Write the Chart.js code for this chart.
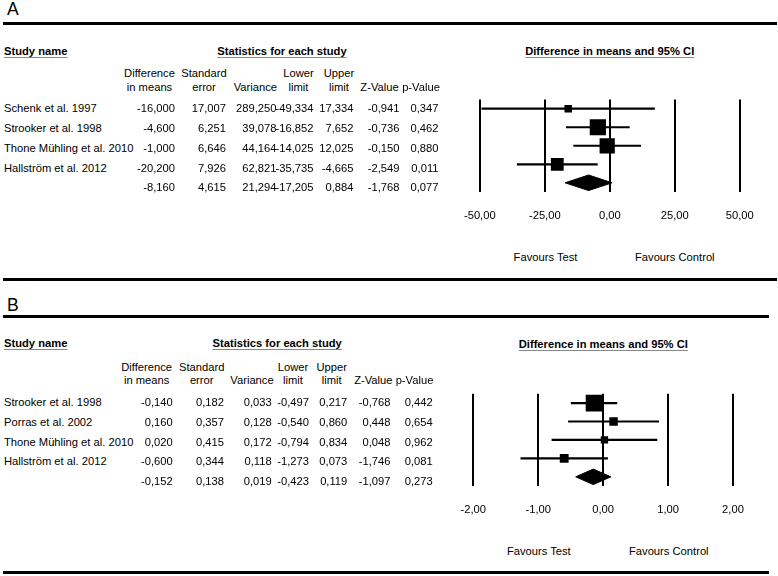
<!DOCTYPE html>
<html>
<head>
<meta charset="utf-8">
<script src="https://cdn.jsdelivr.net/npm/chart.js@4.4.1/dist/chart.umd.min.js"></script>
<style>
body { margin:0; width:778px; height:576px; background:#fff; position:relative; overflow:hidden;
       font-family:"Liberation Sans", Arial, sans-serif; font-size:11.2px; color:#000; }
.t { position:absolute; line-height:14px; white-space:nowrap; }
.u { font-weight:bold; text-decoration:underline; text-decoration-color:#888; text-underline-offset:2px; }
.rule { position:absolute; left:3px; height:3px; background:#000; }
canvas { position:absolute; }
</style>
</head>
<body>
<canvas id="chartA" width="345" height="153" style="left:430px;top:88px;width:345px;height:153px"></canvas>
<canvas id="chartB" width="345" height="153" style="left:425px;top:382px;width:345px;height:153px"></canvas>
<script>
// Panel A - last row is the pooled estimate
const studiesA = ["Schenk et al. 1997", "Strooker et al. 1998", "Thone Mühling et al. 2010", "Hallström et al. 2012", ""];
const diffA  = [-16.000, -4.600, -1.000, -20.200, -8.160];
const seA    = [17.007, 6.251, 6.646, 7.926, 4.615];
const varA   = [289.250, 39.078, 44.164, 62.821, 21.294];
const lowerA = [-49.334, -16.852, -14.025, -35.735, -17.205];
const upperA = [17.334, 7.652, 12.025, -4.665, 0.884];
const zA     = [-0.941, -0.736, -0.150, -2.549, -1.768];
const pA     = [0.347, 0.462, 0.880, 0.011, 0.077];
const ticksA = [-50, -25, 0, 25, 50];

// Panel B
const studiesB = ["Strooker et al. 1998", "Porras et al. 2002", "Thone Mühling et al. 2010", "Hallström et al. 2012", ""];
const diffB  = [-0.140, 0.160, 0.020, -0.600, -0.152];
const seB    = [0.182, 0.357, 0.415, 0.344, 0.138];
const varB   = [0.033, 0.128, 0.172, 0.118, 0.019];
const lowerB = [-0.497, -0.540, -0.794, -1.273, -0.423];
const upperB = [0.217, 0.860, 0.834, 0.073, 0.119];
const zB     = [-0.768, 0.448, 0.048, -1.746, -1.097];
const pB     = [0.442, 0.654, 0.962, 0.081, 0.273];
const ticksB = [-2, -1, 0, 1, 2];

const colHeads = [["Difference", "in means"], ["Standard", "error"], ["", "Variance"],
                  ["Lower", "limit"], ["Upper", "limit"], ["", "Z-Value"], ["", "p-Value"]];

// page layout (pixels)
const layoutA = {
  label: "A", labelY: 9, ruleTop: 22, ruleBottom: 278, ruleRight: 777,
  headY: 51, statX: 282, head1Y: 73.3, head2Y: 86.5, rowY: 108.3, rowStep: 19.75,
  centers: [149.5, 204, 255.3, 298.5, 339, 379.5, 421],
  rights: [175, 226, 276.5, 313.5, 353.5, 399.5, 438.5],
  titleX: 609.7, titleY: 50.7, favY: 257.3, favTestX: 545.5, favCtrlX: 674.8,
  pad: {left: 49.8, right: 35.2, top: 10.4, bottom: 1.5}, maxBox: 16.2, minBox: 7.5
};
const layoutB = {
  label: "B", labelY: 305, ruleTop: 315, ruleBottom: 571, ruleRight: 769,
  headY: 343.3, statX: 277.2, head1Y: 367, head2Y: 380, rowY: 402, rowStep: 19.75,
  centers: [146.7, 201.7, 252, 293, 331.7, 373.3, 414.5],
  rights: [172.7, 224, 271.7, 309, 347.3, 390.5, 432.7],
  titleX: 603.3, titleY: 344, favY: 550.7, favTestX: 538.8, favCtrlX: 668.8,
  pad: {left: 48.3, right: 37, top: 10, bottom: 1.5}, maxBox: 16.7, minBox: 6
};

const fmt = (v, d) => v.toFixed(d).replace('.', ',');

function addText(txt, x, y, align, cls, size) {
  const el = document.createElement("div");
  el.className = "t" + (cls ? " " + cls : "");
  el.textContent = txt;
  el.style.left = x + "px";
  el.style.top = (y - 7) + "px";
  if (size) { el.style.fontSize = size + "px"; el.style.lineHeight = "20px"; el.style.top = (y - 10) + "px"; }
  if (align === "center") el.style.transform = "translateX(-50%)";
  if (align === "right") el.style.transform = "translateX(-100%)";
  document.body.appendChild(el);
}

function addRule(y, right) {
  const el = document.createElement("div");
  el.className = "rule";
  el.style.top = y + "px";
  el.style.width = (right - 3) + "px";
  document.body.appendChild(el);
}

function drawTable(L, names, cols) {
  addText(L.label, 7, L.labelY, "left", "", 17.5);
  addRule(L.ruleTop, L.ruleRight);
  addRule(L.ruleBottom, L.ruleRight);
  addText("Study name", 4, L.headY, "left", "u");
  addText("Statistics for each study", L.statX, L.headY, "center", "u");
  addText("Difference in means and 95% CI", L.titleX, L.titleY, "center", "u");
  colHeads.forEach((h, c) => {
    if (h[0]) addText(h[0], L.centers[c], L.head1Y, "center");
    addText(h[1], L.centers[c], L.head2Y, "center");
  });
  names.forEach((name, i) => {
    const y = L.rowY + i * L.rowStep;
    if (name) addText(name, 4, y, "left");
    cols.forEach((col, c) => addText(fmt(col[i], 3), L.rights[c], y, "right"));
  });
  addText("Favours Test", L.favTestX, L.favY, "center");
  addText("Favours Control", L.favCtrlX, L.favY, "center");
}

function makeForest(id, L, diff, variance, lower, upper, ticks) {
  const n = diff.length - 1;
  const datasets = [];
  // confidence interval lines
  for (let i = 0; i < n; i++) {
    datasets.push({
      data: [{x: lower[i], y: i}, {x: upper[i], y: i}],
      showLine: true, borderColor: "#000", borderWidth: 2.2, pointRadius: 0
    });
  }
  // study boxes, area by inverse-variance weight
  const w = variance.slice(0, n).map(v => 1 / v);
  const wMax = Math.max(...w);
  datasets.push({
    data: diff.slice(0, n).map((v, i) => ({x: v, y: i})),
    pointStyle: "rect",
    pointRadius: w.map(wi => Math.max(L.minBox, L.maxBox * Math.sqrt(wi / wMax)) / Math.SQRT2),
    backgroundColor: "#000", borderWidth: 0
  });
  // pooled diamond
  const h = 0.42;
  datasets.push({
    data: [{x: lower[n], y: n}, {x: diff[n], y: n - h}, {x: upper[n], y: n}, {x: diff[n], y: n + h}, {x: lower[n], y: n}],
    showLine: true, fill: "shape", backgroundColor: "#000", borderColor: "#000", borderWidth: 1, pointRadius: 0
  });

  new Chart(document.getElementById(id), {
    type: "scatter",
    data: {datasets: datasets},
    options: {
      responsive: false, animation: false, events: [],
      layout: {padding: L.pad},
      plugins: {legend: {display: false}, tooltip: {enabled: false}},
      scales: {
        x: {
          type: "linear", min: ticks[0], max: ticks[ticks.length - 1],
          afterBuildTicks: s => { s.ticks = ticks.map(v => ({value: v})); },
          grid: {color: "#000", lineWidth: 2, drawTicks: false},
          border: {display: false},
          ticks: {padding: 17, color: "#000", font: {family: "Liberation Sans", size: 11.2},
                  callback: v => fmt(v, 2)}
        },
        y: {type: "linear", min: -0.5, max: n + 0.5, reverse: true, display: false}
      }
    }
  });
}

drawTable(layoutA, studiesA, [diffA, seA, varA, lowerA, upperA, zA, pA]);
drawTable(layoutB, studiesB, [diffB, seB, varB, lowerB, upperB, zB, pB]);
makeForest("chartA", layoutA, diffA, varA, lowerA, upperA, ticksA);
makeForest("chartB", layoutB, diffB, varB, lowerB, upperB, ticksB);
</script>
</body>
</html>
